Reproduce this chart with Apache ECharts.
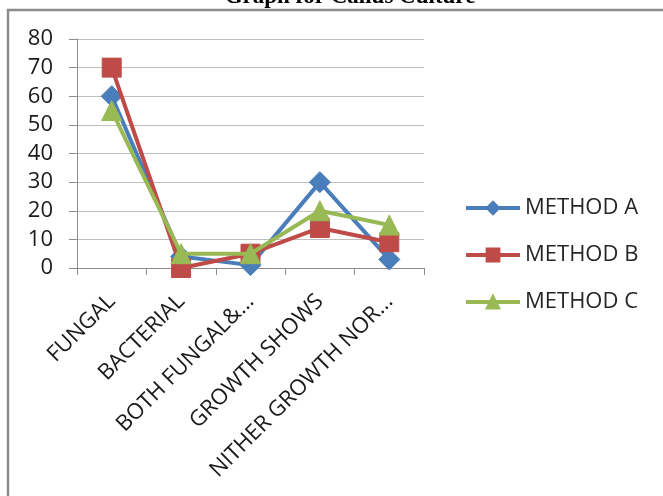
<!DOCTYPE html>
<html>
<head>
<meta charset="utf-8">
<script src="https://cdn.jsdelivr.net/npm/echarts@6/dist/echarts.min.js"></script>
<style>
  html, body { margin: 0; padding: 0; background: #fff; }
  #chart { width: 663px; height: 496px; }
</style>
</head>
<body>
<div id="chart"></div>
<script>
// Culture results per method
const categories = ['FUNGAL', 'BACTERIAL', 'BOTH FUNGAL&...', 'GROWTH SHOWS', 'NITHER GROWTH NOR...'];
const methodA = [60, 4, 1, 30, 3];
const methodB = [70, 0, 5, 14, 9];
const methodC = [55, 5, 5, 20, 15];
const seriesNames = ['METHOD A', 'METHOD B', 'METHOD C'];
const yTicks = { min: 0, max: 80, interval: 10 };

const font = '"Open Sans", "Liberation Sans", sans-serif';
const colors = ['#4A7EBB', '#BE4B48', '#98B954'];
const symbols = ['diamond', 'rect', 'triangle'];
const symbolSizes = [21, 19, 20];

const chart = echarts.init(document.getElementById('chart'));

chart.setOption({
  animation: false,
  backgroundColor: '#fff',
  graphic: [
    {
      type: 'rect',
      shape: { x: 8, y: 10, width: 720, height: 560 },
      style: { fill: 'none', stroke: '#8c8c8c', lineWidth: 2.5 },
      z: -1
    },
    {
      type: 'text',
      x: 350, y: -3,
      style: {
        text: 'Graph for Callus Culture',
        font: 'bold 23px "Liberation Serif", "DejaVu Serif", serif',
        fill: '#000',
        align: 'center',
        verticalAlign: 'middle'
      }
    }
  ],
  grid: { left: 77, right: 239, top: 39, bottom: 228, containLabel: false },
  legend: {
    orient: 'vertical',
    left: 459,
    top: 192,
    itemWidth: 54,
    itemHeight: 16,
    itemGap: 25,
    data: seriesNames,
    lineStyle: { width: 4 },
    textStyle: { fontFamily: font, fontSize: 22, color: '#262626', padding: [0, 0, 0, 0] }
  },
  xAxis: {
    type: 'category',
    data: categories,
    boundaryGap: true,
    axisLine: { lineStyle: { color: '#8c8c8c', width: 1 } },
    axisTick: { show: true, length: 7, lineStyle: { color: '#8c8c8c' } },
    axisLabel: {
      rotate: 45,
      interval: 0,
      margin: 30,
      fontFamily: font,
      fontSize: 22,
      color: '#1a1a1a'
    },
    splitLine: { show: false }
  },
  yAxis: {
    type: 'value',
    min: yTicks.min,
    max: yTicks.max,
    interval: yTicks.interval,
    axisLine: { show: true, lineStyle: { color: '#8c8c8c', width: 1 } },
    axisTick: { show: true, length: 8, lineStyle: { color: '#8c8c8c' } },
    axisLabel: { margin: 24, fontFamily: font, fontSize: 22, color: '#1a1a1a' },
    splitLine: { show: true, lineStyle: { color: '#bfbfbf', width: 1 } }
  },
  series: [methodA, methodB, methodC].map((vals, i) => ({
    name: seriesNames[i],
    type: 'line',
    data: vals,
    symbol: symbols[i],
    symbolSize: symbolSizes[i],
    showAllSymbol: true,
    lineStyle: { color: colors[i], width: 4 },
    itemStyle: { color: colors[i], borderColor: colors[i], borderWidth: 1 },
    z: 2 + i
  }))
});
</script>
</body>
</html>
